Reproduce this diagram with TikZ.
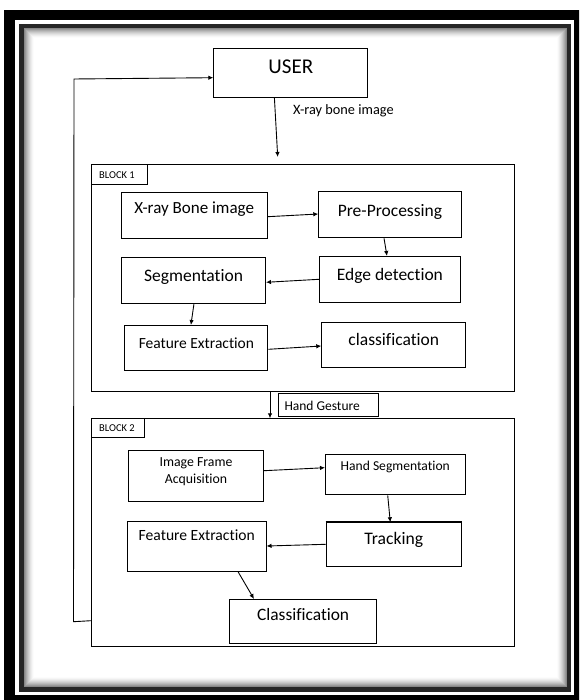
\documentclass[tikz,border=0pt]{standalone}
\usepackage{fontspec}
\setmainfont{Carlito}[Ligatures=NoCommon]
\usetikzlibrary{arrows.meta,calc}
\newcommand\myfs[1]{\fontsize{#1}{#1}\selectfont}
\begin{document}
\begin{tikzpicture}[x=1pt,y=-1pt,
  box/.style={draw=black, line width=1pt, inner sep=0pt, anchor=north west},
  txt/.style={anchor=base, inner sep=0pt, text=black},
  arr/.style={draw=black, line width=0.9pt, -{Latex[length=5pt,width=4.5pt]}},
  ln/.style={draw=black, line width=0.9pt}]
\useasboundingbox (0,0) rectangle (579,700);
% ---- page frame ----
\begin{scope}
\clip (0,0) rectangle (579,700);
\fill[black] (4,10) rectangle (600,720);
\fill[white] (15,20.5) rectangle (574,695);
\draw[line width=4.5pt, black!85] (21.5,26) rectangle (569,689.5);
\foreach \i in {1,...,10}{
  \pgfmathsetmacro\sh{55*(1-\i/11)^1.6}
  \draw[line width=1.05pt, black!\sh] (23.25+\i,27.75+\i) rectangle (567.25-\i,687.75-\i);
}
\end{scope}
% ---- boxes ----
\node[box, minimum width=154pt, minimum height=48.4pt] (user) at (213.3,48.3) {};
\node[box, minimum width=423.9pt, minimum height=227pt] (block1) at (90.5,164) {};
\node[box, minimum width=56.1pt, minimum height=20.3pt] (tag1) at (90.5,164) {};
\node[box, minimum width=145.8pt, minimum height=46.6pt] (xray) at (120.8,191.7) {};
\node[box, minimum width=142.2pt, minimum height=46.6pt] (pre) at (318.3,190.7) {};
\node[box, minimum width=140.7pt, minimum height=46.3pt] (edge) at (319,256) {};
\node[box, minimum width=144pt, minimum height=46.3pt] (seg) at (121,257) {};
\node[box, minimum width=143pt, minimum height=45pt] (fe1) at (124.4,325) {};
\node[box, minimum width=144pt, minimum height=45pt] (cls1) at (321.3,322.3) {};
\node[box, minimum width=100.4pt, minimum height=22.7pt] (hg) at (277.7,393.3) {};
\node[box, minimum width=423.6pt, minimum height=227.7pt] (block2) at (90.8,418.3) {};
\node[box, minimum width=53.6pt, minimum height=19pt] (tag2) at (90.8,418.3) {};
\node[box, minimum width=134.8pt, minimum height=51pt] (ifa) at (128.1,450) {};
\node[box, minimum width=139.5pt, minimum height=40.3pt] (hs) at (325,454) {};
\node[box, minimum width=135.1pt, minimum height=43.7pt] (trk) at (325.7,522.3) {};
\draw[line width=2pt] (trk.north west) -- (trk.north east);
\node[box, minimum width=138.5pt, minimum height=50pt] (fe2) at (127,521) {};
\node[box, minimum width=147.3pt, minimum height=44.3pt] (cls2) at (229,599) {};
% ---- texts ----
\node[txt, font=\myfs{21}] (tuser) at (user.center |- 0,73.3) {USER};
\node[txt, anchor=base west, font=\myfs{14.3}] (txlabel) at (293,115) {X-ray bone image};
\node[txt, anchor=base west, font=\myfs{10.5}] (ttag1) at (99,178.3) {BLOCK 1};
\node[txt, font=\myfs{17}] (txray) at (xray.center |- 0,213.3) {X-ray Bone image};
\node[txt, font=\myfs{17.5}] (tpre) at (pre.center |- 0,216.7) {Pre-Processing};
\node[txt, font=\myfs{17.5}] (tedge) at (edge.center |- 0,280.7) {Edge detection};
\node[txt, font=\myfs{17.5}] (tseg) at (seg.center |- 0,281.7) {Segmentation};
\node[txt, font=\myfs{15.5}] (tfe1) at (fe1.center |- 0,348.3) {Feature Extraction};
\node[txt, font=\myfs{17.5}] (tcls1) at (cls1.center |- 0,345) {classification};
\node[txt, anchor=base west, font=\myfs{13.5}] (thg) at (284.3,410) {Hand Gesture};
\node[txt, anchor=base west, font=\myfs{10.5}] (ttag2) at (99,431) {BLOCK 2};
\node[txt, font=\myfs{13.8}] (tifa1) at (ifa.center |- 0,466.7) {Image Frame};
\node[txt, font=\myfs{13.8}] (tifa2) at (ifa.center |- 0,483.3) {Acquisition};
\node[txt, font=\myfs{13.6}] (ths) at (hs.center |- 0,470.7) {Hand Segmentation};
\node[txt, font=\myfs{17.6}] (ttrk) at (trk.center |- 0,544) {Tracking};
\node[txt, font=\myfs{15.6}] (tfe2) at (fe2.center |- 0,540.3) {Feature Extraction};
\node[txt, font=\myfs{17.4}] (tcls2) at (cls2.center |- 0,620.7) {Classification};
% ---- connectors ----
\draw[arr] (user.south -| 274.4,0) -- ($(block1.north -| 277.7,0)+(0,-7)$);
\coordinate (fbb) at (73.5,621.7);
\coordinate (fbt) at (74,79);
\draw[arr] (block2.west |- 0,620.7) -- (fbb) -- (fbt) -- (user.west |- 0,77.7);
\draw[arr] (xray.east |- 0,216.7) -- (pre.west |- 0,214);
\draw[arr] (pre.south -| 384,0) -- (edge.north -| 387,0);
\draw[arr] (edge.west |- 0,279.3) -- (seg.east |- 0,282.3);
\draw[arr] (seg.south -| 193.9,0) -- (fe1.north -| 190.9,0);
\draw[arr] (fe1.east |- 0,349.3) -- (cls1.west |- 0,346);
\draw[arr] (block1.south -| 270,0) -- (block2.north -| 270,0);
\draw[arr] (ifa.east |- 0,470.7) -- (hs.west |- 0,467.7);
\draw[arr] (hs.south -| 387.7,0) -- (trk.north -| 390.3,0);
\draw[arr] (trk.west |- 0,544.3) -- (fe2.east |- 0,546);
\draw[arr] (fe2.south -| 238.2,0) -- (cls2.north -| 254,0);
\end{tikzpicture}
\end{document}
